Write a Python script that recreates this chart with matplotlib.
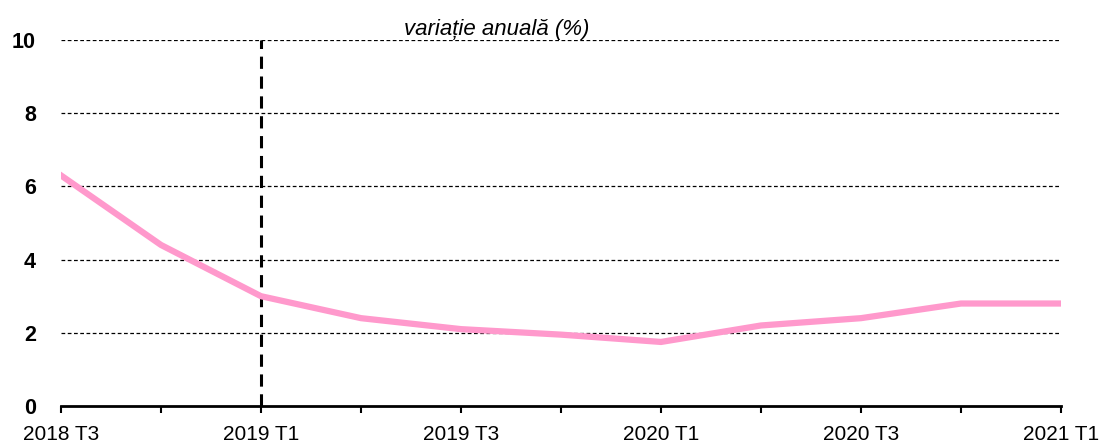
import numpy as np
import matplotlib.pyplot as plt

plt.rcParams['font.family'] = ['Liberation Sans', 'DejaVu Sans']

# Quarterly data
quarters = ['2018 T3', '2018 T4', '2019 T1', '2019 T2', '2019 T3', '2019 T4',
            '2020 T1', '2020 T2', '2020 T3', '2020 T4', '2021 T1']
values = [6.3, 4.4, 3.0, 2.4, 2.1, 1.95, 1.75, 2.2, 2.4, 2.8, 2.8]
yticks = [0, 2, 4, 6, 8, 10]
marker_quarter = '2019 T1'

fig = plt.figure(figsize=(11.05, 4.46), dpi=100)
ax = fig.add_axes([61 / 1105, 40 / 446, 1000 / 1105, 366 / 446])

x = np.arange(len(quarters))

# grid lines
for y in yticks[1:]:
    ax.axhline(y, color='black', linestyle=(0, (3, 2)), linewidth=0.9, zorder=1)

# vertical marker line
xv = quarters.index(marker_quarter)
ax.plot([xv, xv], [0, 10], color='black', linestyle=(0, (4, 2.5)), linewidth=2.2, zorder=2)

ax.plot(x, values, color='#ff99cc', linewidth=4.5, solid_joinstyle='miter', zorder=3)

ax.set_xlim(0, len(quarters) - 1)
ax.set_ylim(0, 10)
ax.set_xticks(x)
ax.set_xticklabels([q if i % 2 == 0 else '' for i, q in enumerate(quarters)])
ax.set_yticks(yticks)

for s in ['top', 'right', 'left']:
    ax.spines[s].set_visible(False)
ax.spines['bottom'].set_linewidth(2)
ax.tick_params(axis='x', direction='out', length=5, width=1.5, labelsize=15, pad=9)
ax.tick_params(axis='y', length=0, labelsize=15.5, pad=18)
for lbl in ax.get_yticklabels():
    lbl.set_fontweight('bold')

ax.text(0.436, 1.0, 'variație anuală (%)', transform=ax.transAxes,
        fontsize=16, style='italic', ha='center', va='bottom')

fig.savefig('out.png', dpi=100)
